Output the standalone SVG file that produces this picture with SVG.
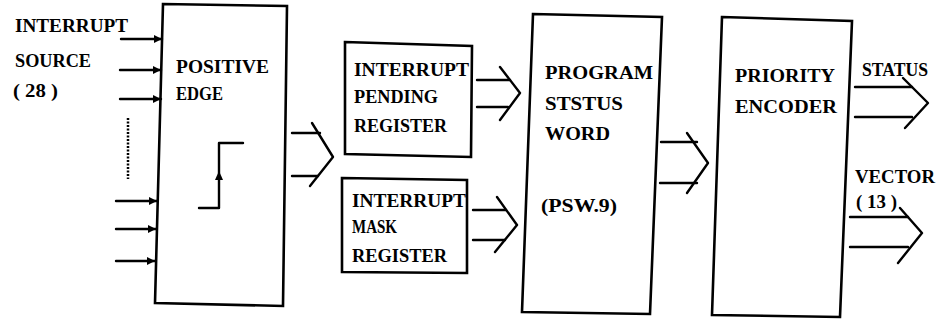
<svg xmlns="http://www.w3.org/2000/svg" width="941" height="320" viewBox="0 0 941 320">
<style>
.box{fill:#fff;stroke:#000;stroke-width:2.6;stroke-linejoin:miter}
.ln{fill:none;stroke:#000;stroke-width:2.4;stroke-linecap:round;stroke-linejoin:round}
.t{font-family:"Liberation Serif","Times New Roman",serif;font-weight:bold;font-size:19px;fill:#000}
</style>
<defs>
<marker id="ah" viewBox="0 0 10 10" refX="10" refY="5" markerWidth="3.5" markerHeight="3.5" orient="auto" markerUnits="strokeWidth">
<path d="M0,0 L10,5 L0,10 Z" fill="#000"/>
</marker>
</defs>
<rect width="941" height="320" fill="#fff"/>

<g id="source-label">
<text class="t" x="15" y="32" textLength="113" lengthAdjust="spacingAndGlyphs">INTERRUPT</text>
<text class="t" x="15" y="67" textLength="76" lengthAdjust="spacingAndGlyphs">SOURCE</text>
<text class="t" x="13" y="97" textLength="45" lengthAdjust="spacingAndGlyphs">( 28 )</text>
</g>

<g id="positive-edge">
<polygon class="box" points="163,4 287,6 283,306 155,303"/>
<text class="t" x="176" y="73" textLength="93" lengthAdjust="spacingAndGlyphs">POSITIVE</text>
<text class="t" x="176" y="100" textLength="47" lengthAdjust="spacingAndGlyphs">EDGE</text>
<path class="ln" d="M199,208 L219,208 L219,143 L243,143"/>
<path d="M219,171 L215,180 L223,180 Z" fill="#000"/>
</g>

<g id="pending-register">
<polygon class="box" points="345,42 472,46 471,157 345,154"/>
<text class="t" x="354" y="76" textLength="115" lengthAdjust="spacingAndGlyphs">INTERRUPT</text>
<text class="t" x="354" y="103" textLength="84" lengthAdjust="spacingAndGlyphs">PENDING</text>
<text class="t" x="354" y="132" textLength="93" lengthAdjust="spacingAndGlyphs">REGISTER</text>
</g>

<g id="mask-register">
<polygon class="box" points="342,178 467,180 467,273 342,272"/>
<text class="t" x="352" y="207" textLength="114" lengthAdjust="spacingAndGlyphs">INTERRUPT</text>
<text class="t" x="352" y="233" textLength="45" lengthAdjust="spacingAndGlyphs">MASK</text>
<text class="t" x="352" y="262" textLength="95" lengthAdjust="spacingAndGlyphs">REGISTER</text>
</g>

<g id="psw">
<polygon class="box" points="533,14 662,17 650,314 522,312"/>
<text class="t" x="545" y="79" textLength="108" lengthAdjust="spacingAndGlyphs">PROGRAM</text>
<text class="t" x="545" y="110" textLength="78" lengthAdjust="spacingAndGlyphs">STSTUS</text>
<text class="t" x="545" y="140" textLength="65" lengthAdjust="spacingAndGlyphs">WORD</text>
<text class="t" x="541" y="212" textLength="76" lengthAdjust="spacingAndGlyphs">(PSW.9)</text>
</g>

<g id="priority-encoder">
<polygon class="box" points="722,17 852,21 840,317 712,315"/>
<text class="t" x="735" y="82" textLength="100" lengthAdjust="spacingAndGlyphs">PRIORITY</text>
<text class="t" x="735" y="113" textLength="102" lengthAdjust="spacingAndGlyphs">ENCODER</text>
</g>

<g id="output-labels">
<text class="t" x="862" y="76" textLength="66" lengthAdjust="spacingAndGlyphs">STATUS</text>
<text class="t" x="855" y="183" textLength="80" lengthAdjust="spacingAndGlyphs">VECTOR</text>
<text class="t" x="856" y="208" textLength="41" lengthAdjust="spacingAndGlyphs">( 13 )</text>
</g>

<g id="connectors">
<line class="ln" x1="121" y1="39" x2="162" y2="39" marker-end="url(#ah)"/>
<line class="ln" x1="120" y1="70" x2="161" y2="70" marker-end="url(#ah)"/>
<line class="ln" x1="120" y1="99" x2="161" y2="99" marker-end="url(#ah)"/>
<line x1="128" y1="118" x2="128" y2="179" stroke="#000" stroke-width="2.5" stroke-dasharray="2,1.5"/>
<line class="ln" x1="116" y1="201" x2="157" y2="201" marker-end="url(#ah)"/>
<line class="ln" x1="116" y1="229" x2="156" y2="229" marker-end="url(#ah)"/>
<line class="ln" x1="116" y1="261" x2="155" y2="261" marker-end="url(#ah)"/>

<line class="ln" x1="292" y1="133" x2="320" y2="133"/>
<line class="ln" x1="292" y1="176" x2="318" y2="176"/>
<path class="ln" d="M312,123 L333,157 L310,186"/>

<line class="ln" x1="477" y1="80" x2="510" y2="80"/>
<line class="ln" x1="477" y1="107" x2="508" y2="107"/>
<path class="ln" d="M500,67 L520,93 L500,120"/>

<line class="ln" x1="473" y1="210" x2="506" y2="210"/>
<line class="ln" x1="473" y1="240" x2="505" y2="240"/>
<path class="ln" d="M497,197 L517,225 L495,252"/>

<line class="ln" x1="661" y1="142" x2="697" y2="142"/>
<line class="ln" x1="660" y1="183" x2="697" y2="183"/>
<path class="ln" d="M687,133 L708,163 L687,193"/>

<line class="ln" x1="855" y1="87" x2="912" y2="87"/>
<line class="ln" x1="855" y1="117" x2="912" y2="117"/>
<path class="ln" d="M903,78 L928,103 L905,128"/>

<line class="ln" x1="850" y1="217" x2="908" y2="217"/>
<line class="ln" x1="850" y1="247" x2="908" y2="247"/>
<path class="ln" d="M900,208 L922,233 L898,263"/>
</g>
</svg>
